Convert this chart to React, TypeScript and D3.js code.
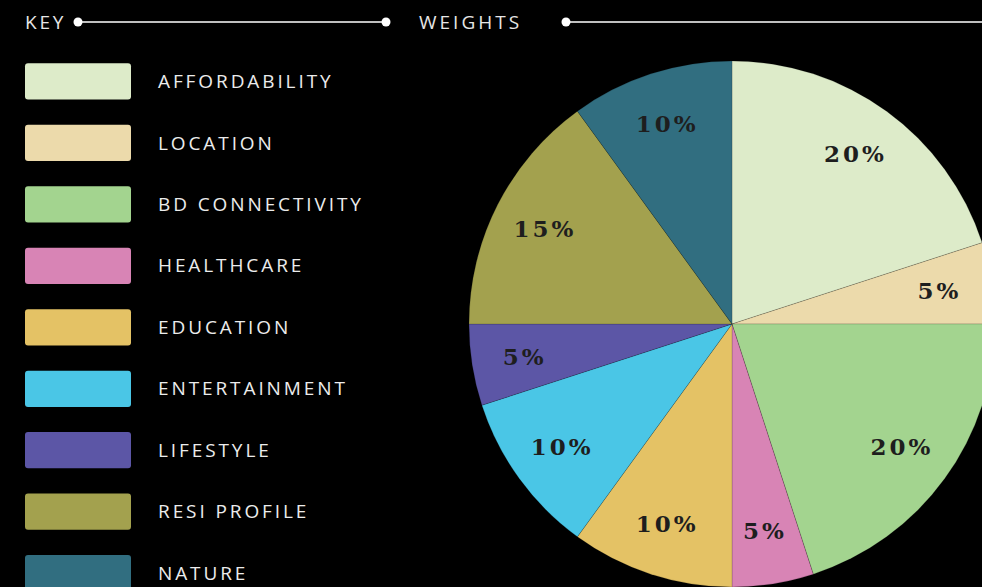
import React from "react";
import * as d3 from "d3";

const categories = ["AFFORDABILITY", "LOCATION", "BD CONNECTIVITY", "HEALTHCARE", "EDUCATION", "ENTERTAINMENT", "LIFESTYLE", "RESI PROFILE", "NATURE"];
const weights = [20, 5, 20, 5, 10, 10, 5, 15, 10];
const colors = ["#ddebc9", "#ecdaab", "#a3d48f", "#d884b5", "#e4c265", "#4ac6e6", "#5c56a6", "#a3a14e", "#316e80"];

const W = 982, H = 587;
const cx = 732, cy = 324, R = 263;

export default function App() {
  const data = categories.map((c, i) => ({ name: c, value: weights[i], color: colors[i] }));
  const pie = d3.pie<any>().value((d) => d.value).sort(null);
  const arcs = pie(data);
  const arcGen = d3.arc<any>().innerRadius(0).outerRadius(R);
  const labelArc = d3.arc<any>().innerRadius(210).outerRadius(210);
  const legendY = d3.scaleBand<string>().domain(categories).range([51, 51 + 61.4 * 9]).paddingInner(0.41).paddingOuter(0.2);
  const sans = "'Open Sans', 'DejaVu Sans', sans-serif";
  return (
    <svg width={W} height={H} style={{ position: "absolute", left: 0, top: 0, background: "#000" }}>
      <rect width={W} height={H} fill="#000" />
      <text x={25} y={22} dy="0.35em" fill="#e6e6e6" fontFamily={sans} fontSize={19} letterSpacing={2.8}>KEY</text>
      <line x1={78} x2={386} y1={22} y2={22} stroke="#fff" strokeWidth={1.6} />
      <circle cx={78} cy={22} r={4.5} fill="#fff" />
      <circle cx={386} cy={22} r={4.5} fill="#fff" />
      <text x={419} y={22} dy="0.35em" fill="#e6e6e6" fontFamily={sans} fontSize={19} letterSpacing={3}>WEIGHTS</text>
      <line x1={566} x2={982} y1={22} y2={22} stroke="#fff" strokeWidth={1.6} />
      <circle cx={566} cy={22} r={4.5} fill="#fff" />
      {data.map((d) => {
        const y = legendY(d.name)!;
        const h = legendY.bandwidth();
        return (
          <g key={d.name}>
            <rect x={25} y={y} width={106} height={h} rx={3} fill={d.color} />
            <text x={158} y={y + h / 2} dy="0.35em" fill="#ececec" fontFamily={sans} fontSize={19} letterSpacing={2.9}>{d.name}</text>
          </g>
        );
      })}
      <g transform={`translate(${cx},${cy})`}>
        {arcs.map((a, i) => (
          <path key={i} d={arcGen(a)!} fill={a.data.color} stroke="rgba(0,0,0,0.25)" strokeWidth={0.6} />
        ))}
        {arcs.map((a, i) => {
          const [x, y] = labelArc.centroid(a);
          return (
            <text key={"l" + i} x={x} y={y} dy="0.35em" textAnchor="middle" fill="#1e1e1e" fontFamily="'DejaVu Serif', 'Liberation Serif', serif" fontWeight="bold" fontSize={23} letterSpacing={3}>
              {a.data.value}%
            </text>
          );
        })}
      </g>
    </svg>
  );
}
